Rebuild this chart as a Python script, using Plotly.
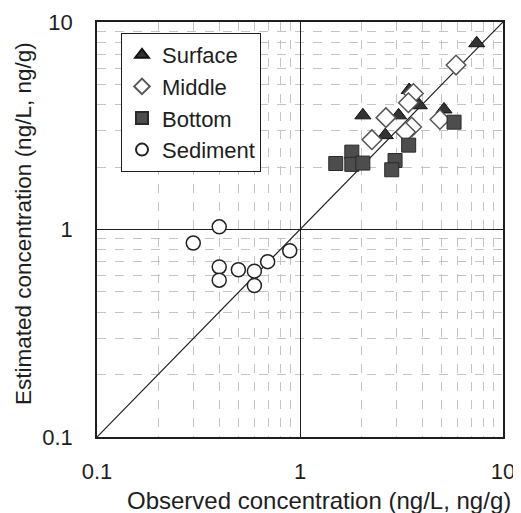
import plotly.graph_objects as go

surface_x = [2.04, 3.45, 3.06, 3.87, 2.63, 5.12, 7.42]
surface_y = [3.55, 4.70, 3.55, 3.97, 2.85, 3.79, 7.90]

middle_x = [5.87, 3.62, 3.42, 2.65, 2.26, 3.55, 3.31, 4.89]
middle_y = [6.20, 4.52, 4.08, 3.46, 2.71, 3.12, 2.95, 3.39]

bottom_x = [1.50, 1.80, 1.80, 2.04, 2.94, 2.83, 3.43, 5.74]
bottom_y = [2.08, 2.36, 2.06, 2.09, 2.15, 1.94, 2.55, 3.29]

sediment_x = [0.40, 0.298, 0.40, 0.40, 0.497, 0.596, 0.596, 0.693, 0.89]
sediment_y = [1.03, 0.86, 0.66, 0.57, 0.64, 0.63, 0.537, 0.70, 0.79]

diag = [0.1, 10]
tick_vals = [0.1, 1, 10]
tick_text = ["0.1", "1", "10"]
minor_vals = [0.2, 0.3, 0.4, 0.5, 0.6, 0.7, 0.8, 0.9, 2, 3, 4, 5, 6, 7, 8, 9]

FONT = "Liberation Sans, Arial"
INK = "#1e1e1e"

# page body has an 8px margin, so the figure is sized to fit the 521x513 window
W, H = 513, 505
L, R, T, B = 89, 18, 14, 76
PW, PH = W - L - R, H - T - B


def px_to_paper(px, py):
    return (px - L) / PW, 1 - (py - T) / PH


fig = go.Figure()
fig.add_trace(go.Scatter(x=diag, y=diag, mode="lines", line=dict(color=INK, width=1.2),
                         showlegend=False, hoverinfo="skip"))
fig.add_trace(go.Scatter(x=surface_x, y=surface_y, mode="markers", name="Surface",
                         marker=dict(symbol="triangle-up", size=14, color="#333",
                                     line=dict(color="#111", width=1))))
fig.add_trace(go.Scatter(x=middle_x, y=middle_y, mode="markers", name="Middle",
                         marker=dict(symbol="diamond", size=15, color="white",
                                     line=dict(color="#555", width=1.5))))
fig.add_trace(go.Scatter(x=bottom_x, y=bottom_y, mode="markers", name="Bottom",
                         marker=dict(symbol="square", size=14, color="#4d4d4d",
                                     line=dict(color="#2a2a2a", width=1))))
fig.add_trace(go.Scatter(x=sediment_x, y=sediment_y, mode="markers", name="Sediment",
                         marker=dict(symbol="circle", size=14, color="white",
                                     line=dict(color="#222", width=1.5))))

axis_common = dict(
    type="log", range=[-1, 1], tickvals=tick_vals, ticktext=tick_text,
    showgrid=True, gridcolor=INK, gridwidth=1.3,
    showline=True, linecolor=INK, linewidth=1.6, mirror=True,
    ticks="", zeroline=False, automargin=False,
    tickfont=dict(family=FONT, size=22, color=INK),
    minor=dict(tickvals=minor_vals, showgrid=True, gridcolor="#c4c4c4",
               griddash="dash", gridwidth=1, ticks=""),
)

fig.update_xaxes(**axis_common, ticklabelstandoff=14)
fig.update_yaxes(**axis_common, ticklabelstandoff=18)

xt_x, xt_y = px_to_paper(311, 492)
yt_x, yt_y = px_to_paper(16, 216)
lg_x, lg_y = px_to_paper(113, 25)

fig.update_layout(
    width=W, height=H,
    margin=dict(l=L, r=R, t=T, b=B),
    paper_bgcolor="white", plot_bgcolor="white",
    legend=dict(x=lg_x, y=lg_y, xanchor="left", yanchor="top",
                bgcolor="white", bordercolor=INK, borderwidth=1,
                font=dict(family=FONT, size=22, color=INK),
                itemsizing="constant"),
    showlegend=True,
    annotations=[
        dict(text="Observed concentration (ng/L, ng/g)", xref="paper", yref="paper",
             x=xt_x, y=xt_y, xanchor="center", yanchor="middle",
             showarrow=False, font=dict(family=FONT, size=24, color=INK)),
        dict(text="Estimated concentration (ng/L, ng/g)", xref="paper", yref="paper",
             x=yt_x, y=yt_y, xanchor="center", yanchor="middle",
             textangle=-90, showarrow=False, font=dict(family=FONT, size=22.5, color=INK)),
    ],
)

fig.write_html("out.html")
